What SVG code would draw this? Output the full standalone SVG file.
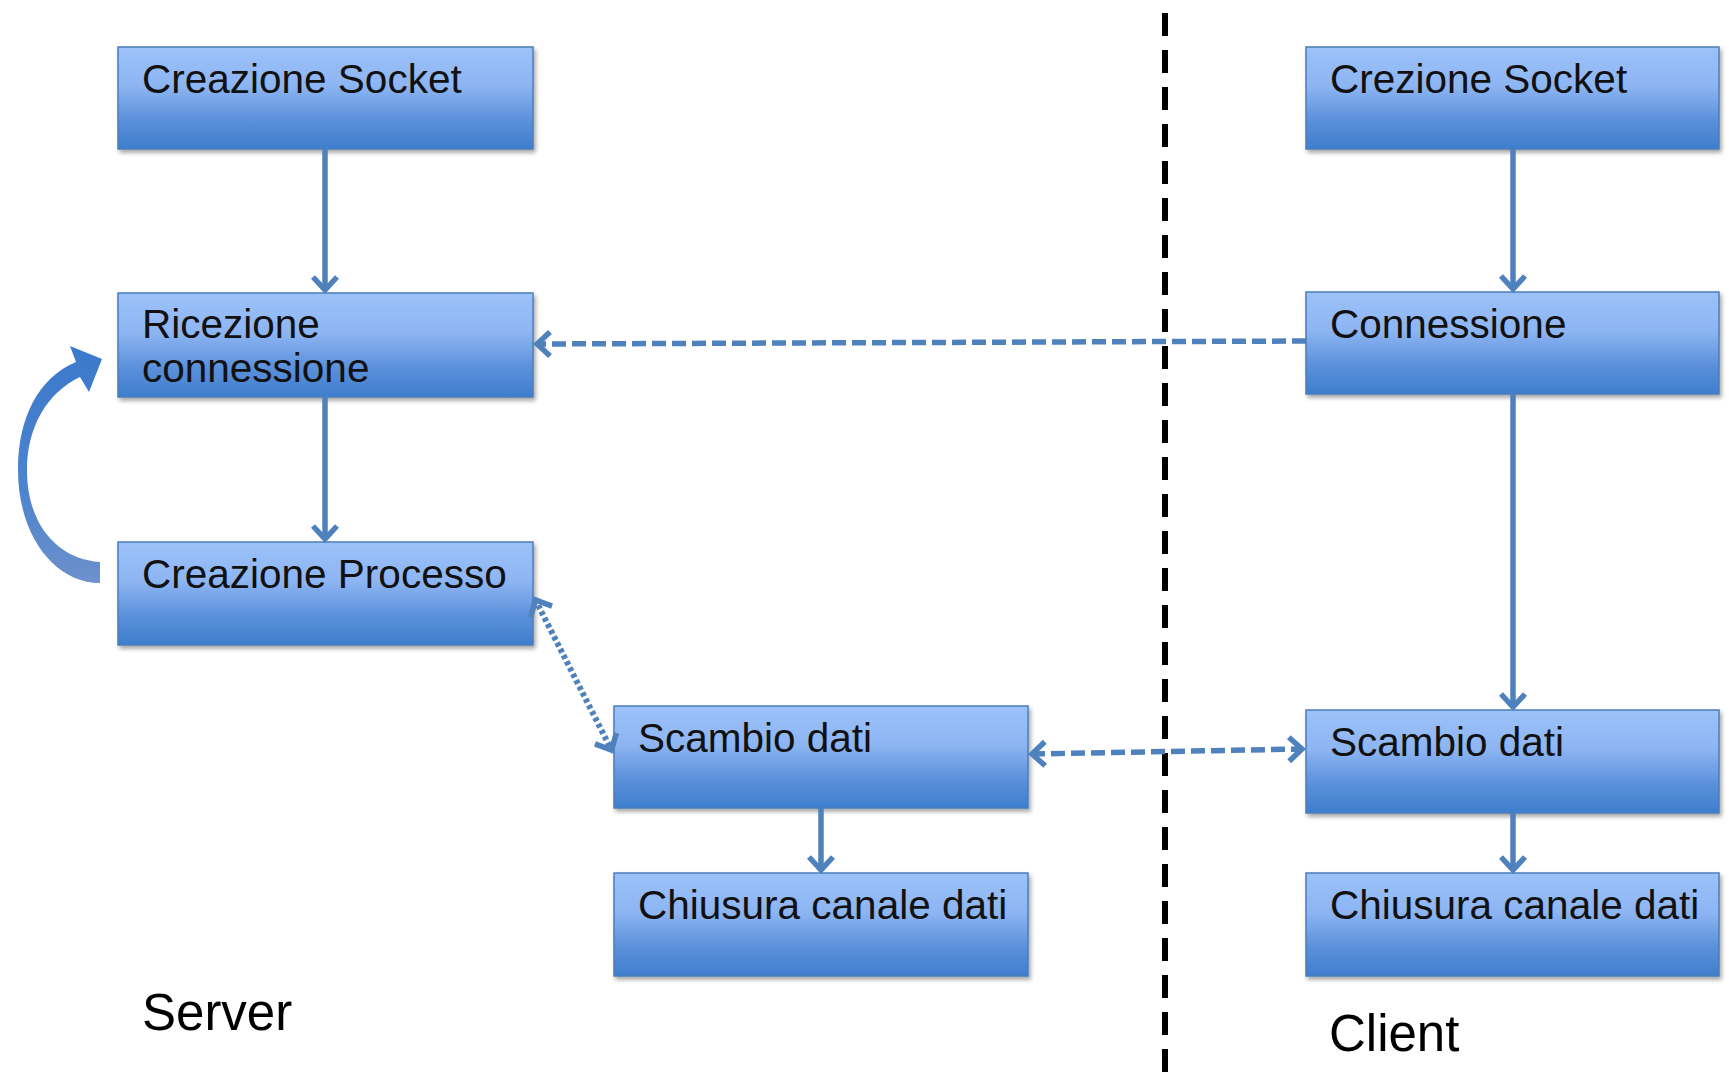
<svg xmlns="http://www.w3.org/2000/svg" width="1729" height="1074" viewBox="0 0 1729 1074">
  <defs>
    <linearGradient id="boxFill" x1="0" y1="0" x2="0" y2="1">
      <stop offset="0" stop-color="#9DC2FA"/>
      <stop offset="0.38" stop-color="#8DB5F2"/>
      <stop offset="0.72" stop-color="#5B90DB"/>
      <stop offset="1" stop-color="#3F7ECD"/>
    </linearGradient>
    <linearGradient id="loopFill" x1="0" y1="0" x2="0" y2="1">
      <stop offset="0" stop-color="#3B79CB"/>
      <stop offset="0.6" stop-color="#4C84CE"/>
      <stop offset="1" stop-color="#6D91CB"/>
    </linearGradient>
    <filter id="shadow" x="-5%" y="-5%" width="115%" height="125%">
      <feDropShadow dx="2" dy="3" stdDeviation="2.2" flood-color="#000" flood-opacity="0.35"/>
    </filter>
    <marker id="chev" viewBox="-18 -15 22 30" markerWidth="22" markerHeight="30" refX="1" refY="0" orient="auto-start-reverse" markerUnits="userSpaceOnUse">
      <path d="M-13,-12 L0,0 L-13,12" fill="none" stroke="#4F81BD" stroke-width="5.5" stroke-linejoin="miter"/>
    </marker>
    <style>
      .box { fill: url(#boxFill); stroke: #4A7EBB; stroke-width: 1.5; filter: url(#shadow); }
      .label { font-family: "Liberation Sans", Arial, sans-serif; font-size: 40.5px; fill: #111; }
      .side { font-family: "Liberation Sans", Arial, sans-serif; font-size: 51px; fill: #000; }
      .flow { stroke: #4F81BD; stroke-width: 5.5; fill: none; }
      .dash { stroke: #4F81BD; stroke-width: 5.5; fill: none; stroke-dasharray: 14 6; }
      .dot { stroke: #4F81BD; stroke-width: 6; fill: none; stroke-dasharray: 4 3; }
      .divider { stroke: #000; stroke-width: 6; stroke-dasharray: 23 14; }
    </style>
  </defs>

  <rect width="1729" height="1074" fill="#fff"/>

  <!-- server / client divider -->
  <line class="divider" x1="1165" y1="13" x2="1165" y2="1074"/>

  <!-- server column -->
  <g id="srv-socket">
    <rect class="box" x="118" y="47" width="415" height="102"/>
    <text class="label" x="142" y="93">Creazione Socket</text>
  </g>
  <g id="srv-accept">
    <rect class="box" x="118" y="293" width="415" height="104"/>
    <text class="label" x="142" y="338">Ricezione</text>
    <text class="label" x="142" y="382">connessione</text>
  </g>
  <g id="srv-fork">
    <rect class="box" x="118" y="542" width="415" height="103"/>
    <text class="label" x="142" y="588">Creazione Processo</text>
  </g>
  <g id="srv-exchange">
    <rect class="box" x="614" y="706" width="414" height="102"/>
    <text class="label" x="638" y="752">Scambio dati</text>
  </g>
  <g id="srv-close">
    <rect class="box" x="614" y="873" width="414" height="103"/>
    <text class="label" x="638" y="919">Chiusura canale dati</text>
  </g>

  <!-- client column -->
  <g id="cli-socket">
    <rect class="box" x="1306" y="47" width="413" height="102"/>
    <text class="label" x="1330" y="93">Crezione Socket</text>
  </g>
  <g id="cli-connect">
    <rect class="box" x="1306" y="292" width="413" height="102"/>
    <text class="label" x="1330" y="338">Connessione</text>
  </g>
  <g id="cli-exchange">
    <rect class="box" x="1306" y="710" width="413" height="103"/>
    <text class="label" x="1330" y="756">Scambio dati</text>
  </g>
  <g id="cli-close">
    <rect class="box" x="1306" y="873" width="413" height="103"/>
    <text class="label" x="1330" y="919">Chiusura canale dati</text>
  </g>

  <!-- side captions -->
  <g id="caption-server">
    <text class="side" x="142" y="1030">Server</text>
  </g>
  <g id="caption-client">
    <text class="side" x="1329" y="1051">Client</text>
  </g>

  <!-- connectors -->
  <g id="connectors">
    <line class="flow" x1="325" y1="149" x2="325" y2="291" marker-end="url(#chev)"/>
    <line class="flow" x1="325" y1="397" x2="325" y2="540" marker-end="url(#chev)"/>
    <line class="flow" x1="821" y1="808" x2="821" y2="871" marker-end="url(#chev)"/>
    <line class="flow" x1="1513" y1="149" x2="1513" y2="290" marker-end="url(#chev)"/>
    <line class="flow" x1="1513" y1="394" x2="1513" y2="708" marker-end="url(#chev)"/>
    <line class="flow" x1="1513" y1="813" x2="1513" y2="871" marker-end="url(#chev)"/>

    <!-- connect request -->
    <line class="dash" x1="1306" y1="341" x2="536" y2="344" marker-end="url(#chev)"/>
    <!-- data exchange, both ways -->
    <line class="dash" x1="1031" y1="754" x2="1303" y2="749" marker-start="url(#chev)" marker-end="url(#chev)"/>
    <!-- child process link -->
    <line class="dot" x1="535" y1="599" x2="612" y2="751" marker-start="url(#chev)" marker-end="url(#chev)"/>

    <!-- accept loop -->
    <path id="loop" fill="url(#loopFill)" d="M100,562 C57,559 27,524 27,470 C27,426 48,392 80,377 L89,392 L102,359 L70,346 L76,362 C38,378 18,418 18,470 C18,536 55,583 100,583 Z"/>
  </g>
</svg>
